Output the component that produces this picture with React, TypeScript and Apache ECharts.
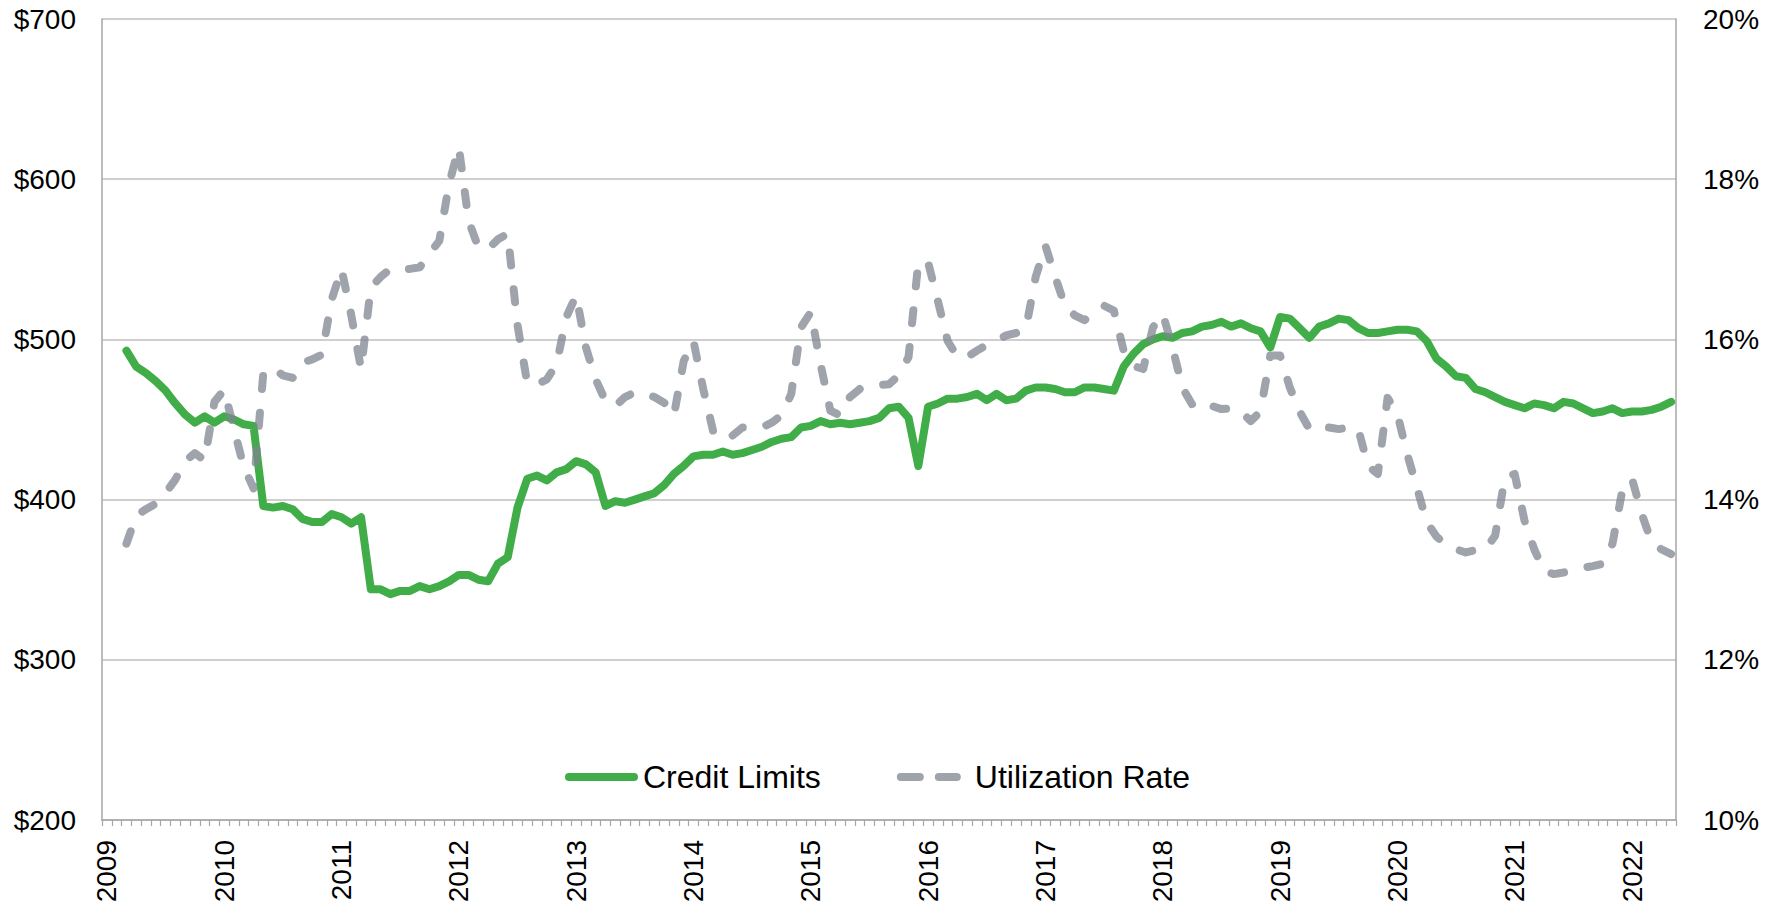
import { useEffect, useRef } from 'react';
import * as echarts from 'echarts';

const FONT = '"Liberation Sans", Arial, sans-serif';

// x axis: one slot per month, Jan 2009 .. May 2022
const firstYear = 2009;
const monthCount = 161;
const yearTicks = ['2009', '2010', '2011', '2012', '2013', '2014', '2015', '2016', '2017', '2018', '2019', '2020', '2021', '2022'];
// data begins in March 2009 (slot 2)
const leadingEmptyMonths = 2;

const leftTicks = [200, 300, 400, 500, 600, 700];
const rightTicks = [10, 12, 14, 16, 18, 20];

// Credit limits ($), monthly from Mar 2009
const creditLimits = [
  493, 483, 479, 474, 468, 460, 453, 448, 452, 448, 452, 450, 447, 446,
  396, 395, 396, 394, 388, 386, 386, 391, 389, 385, 389,
  344, 344, 341, 343, 343, 346, 344, 346, 349, 353, 353, 350, 349, 360, 364,
  395, 413, 415, 412, 417, 419, 424, 422, 417,
  396, 399, 398, 400, 402, 404, 409, 416, 421, 427,
  428, 428, 430, 428, 429, 431, 433, 436, 438, 439,
  445, 446, 449, 447, 448, 447, 448, 449, 451, 457,
  458, 451, 421, 458, 460, 463, 463, 464, 466, 462,
  466, 462, 463, 468, 470, 470, 469, 467, 467, 470,
  470, 469, 468, 483, 491, 497, 500, 502, 501, 504,
  505, 508, 509, 511, 508, 510, 507, 505, 495, 514,
  513, 507, 501, 508, 510, 513, 512, 507, 504, 504,
  505, 506, 506, 505, 499, 488, 483, 477, 476, 469,
  467, 464, 461, 459, 457, 460, 459, 457, 461, 460,
  457, 454, 455, 457, 454, 455, 455, 456, 458, 461,
];

// Utilization rate (%), monthly from Mar 2009
const utilizationRate = [
  13.45, 13.8, 13.88, 13.95, 14.08, 14.25, 14.48, 14.58, 14.49, 15.22, 15.37, 14.88, 14.41, 14.14,
  15.58, 15.65, 15.55, 15.52, 15.71, 15.75, 15.81, 16.5, 16.88, 16.3, 15.63,
  16.65, 16.78, 16.88, 16.88, 16.88, 16.9, 17.07, 17.23, 17.94, 18.4, 17.48, 17.15, 17.13, 17.25, 17.32,
  16.18, 15.45, 15.44, 15.5, 15.69, 16.28, 16.55, 15.9, 15.5,
  15.23, 15.17, 15.28, 15.34, 15.32, 15.28, 15.21, 15.05, 15.73, 15.98,
  15.38, 14.86, 14.75, 14.8, 14.9, 14.9, 14.9, 14.96, 15.05, 15.32,
  16.15, 16.34, 15.69, 15.11, 15.05, 15.28, 15.38, 15.42, 15.43, 15.44,
  15.55, 15.78, 16.96, 16.96, 16.48, 15.98, 15.78, 15.78, 15.86, 15.93,
  15.99, 16.05, 16.08, 16.13, 16.78, 17.17, 16.78, 16.42, 16.3, 16.24,
  16.34, 16.42, 16.36, 15.86, 15.67, 15.63, 16.15, 16.32, 15.9, 15.4,
  15.19, 15.12, 15.17, 15.13, 15.14, 15.1, 14.98, 15.1, 15.8, 15.8,
  15.4, 15.1, 14.88, 14.87, 14.9, 14.88, 14.9, 14.88, 14.42, 14.32,
  15.27, 15.07, 14.57, 14.15, 13.72, 13.54, 13.43, 13.38, 13.34, 13.37,
  13.38, 13.55, 14.28, 14.32, 13.74, 13.38, 13.11, 13.07, 13.09, 13.12,
  13.15, 13.17, 13.2, 13.45, 14.11, 14.26, 13.82, 13.47, 13.38, 13.32,
];

const seriesNames = ['Credit Limits', 'Utilization Rate'];

// legend icons: a solid pill and two dash pills (73 x 8 box)
const solidIcon = 'path://M4,0 L69,0 A4,4 0 0 1 69,8 L4,8 A4,4 0 0 1 4,0 Z';
const dashIcon =
  'path://M4,0 L23,0 A4,4 0 0 1 23,8 L4,8 A4,4 0 0 1 4,0 Z M42,0 L60,0 A4,4 0 0 1 60,8 L42,8 A4,4 0 0 1 42,0 Z M73,4';

export default function App() {
  const ref = useRef<HTMLDivElement>(null);

  useEffect(() => {
    if (!ref.current) return;
    const chart = echarts.init(ref.current, null, { renderer: 'svg' });

    const categories = Array.from({ length: monthCount }, (_, i) => {
      const y = firstYear + Math.floor(i / 12);
      const m = (i % 12) + 1;
      return `${y}-${m < 10 ? '0' + m : m}`;
    });
    const pad = Array.from({ length: leadingEmptyMonths }, () => null as number | null);
    const greenData = [...pad, ...creditLimits];
    const greyData = [...pad, ...utilizationRate];

    const axisColor = '#A6A6A6';
    const gridColor = '#BFBFBF';
    const green = '#40AD48';
    const grey = '#9FA3AA';

    chart.setOption({
      animation: false,
      backgroundColor: '#ffffff',
      grid: { left: 102, right: 103, top: 19, bottom: 84, containLabel: false, outerBoundsMode: 'none' },
      legend: {
        data: [
          { name: seriesNames[0], icon: solidIcon, itemStyle: { color: green, borderWidth: 0 } },
          { name: seriesNames[1], icon: dashIcon, itemStyle: { color: grey, borderWidth: 0 } },
        ],
        left: 565,
        top: 761,
        padding: 0,
        itemWidth: 73,
        itemHeight: 8,
        itemGap: 76,
        itemStyle: { borderWidth: 0 },
        textStyle: { fontSize: 32, color: '#000', fontFamily: FONT, lineHeight: 32 },
      },
      xAxis: {
        type: 'category',
        data: categories,
        boundaryGap: true,
        axisLine: { show: true, lineStyle: { color: axisColor, width: 1.5 } },
        axisTick: { show: true, interval: 0, length: 6, lineStyle: { color: axisColor, width: 1.2 } },
        axisLabel: {
          interval: (i: number) => i % 12 === 0,
          formatter: (v: string) => yearTicks[yearTicks.indexOf(v.slice(0, 4))] ?? '',
          rotate: 90,
          margin: 20,
          fontSize: 28,
          color: '#000',
          fontFamily: FONT,
        },
        splitLine: { show: false },
      },
      yAxis: [
        {
          type: 'value',
          position: 'left',
          min: leftTicks[0],
          max: leftTicks[leftTicks.length - 1],
          interval: 100,
          axisLine: { show: true, lineStyle: { color: axisColor, width: 1.5 } },
          axisTick: { show: false },
          splitLine: { show: true, lineStyle: { color: gridColor, width: 1.5 } },
          axisLabel: {
            formatter: (v: number) => '$' + v,
            fontSize: 28,
            margin: 26,
            color: '#000',
            fontFamily: FONT,
          },
        },
        {
          type: 'value',
          position: 'right',
          min: rightTicks[0],
          max: rightTicks[rightTicks.length - 1],
          interval: 2,
          axisLine: { show: true, lineStyle: { color: axisColor, width: 1.5 } },
          axisTick: { show: false },
          splitLine: { show: false },
          axisLabel: {
            formatter: (v: number) => v + '%',
            fontSize: 28,
            margin: 27,
            color: '#000',
            fontFamily: FONT,
          },
        },
      ],
      series: [
        {
          name: seriesNames[0],
          type: 'line',
          yAxisIndex: 0,
          data: greenData,
          symbol: 'none',
          showSymbol: false,
          z: 2,
          itemStyle: { color: green },
          lineStyle: { color: green, width: 8, cap: 'round', join: 'round' },
        },
        {
          name: seriesNames[1],
          type: 'line',
          yAxisIndex: 1,
          data: greyData,
          symbol: 'none',
          showSymbol: false,
          z: 3,
          itemStyle: { color: grey },
          lineStyle: {
            color: 'rgba(127,133,144,0.75)',
            width: 8,
            type: [13, 24],
            cap: 'round',
            join: 'round',
          },
        },
      ],
    });

    return () => chart.dispose();
  }, []);

  return (
    <div
      ref={ref}
      style={{ position: 'fixed', left: 0, top: 0, width: 1779, height: 904, background: '#fff' }}
    />
  );
}
